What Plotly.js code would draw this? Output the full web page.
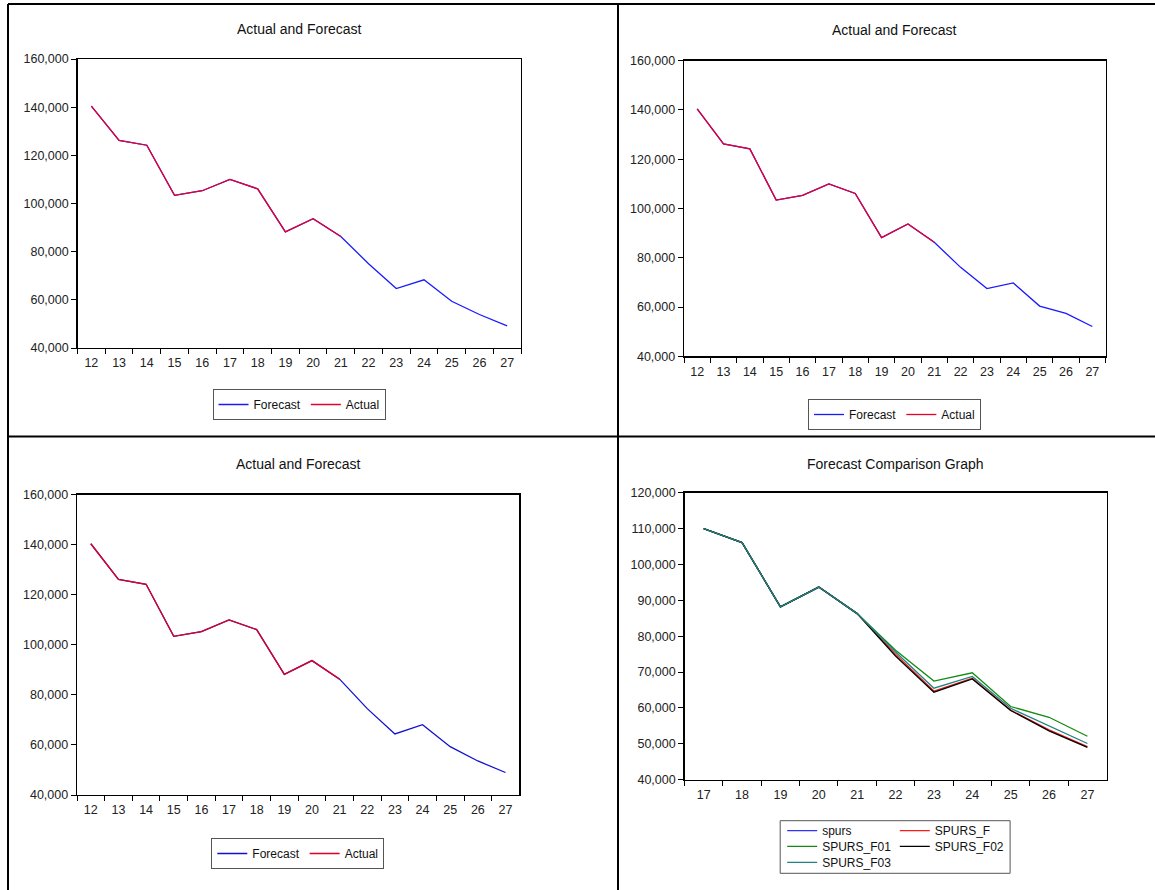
<!DOCTYPE html>
<html>
<head>
<meta charset="utf-8">
<script src="https://cdn.plot.ly/plotly-3.0.1.min.js"></script>
<style>
  html, body { margin: 0; padding: 0; background: #ffffff; }
  #chart { width: 1155px; height: 890px; }
</style>
</head>
<body>
<div id="chart"></div>
<script>
// ---------------- data ----------------
const periods = [12, 13, 14, 15, 16, 17, 18, 19, 20, 21, 22, 23, 24, 25, 26, 27];
const comparePeriods = [17, 18, 19, 20, 21, 22, 23, 24, 25, 26, 27];

// observed values, periods 12..21
const actualValues = [140400, 126200, 124200, 103400, 105300, 110000, 106100, 88200, 93700, 86300];
// in-sample values shown in the comparison graph, periods 17..21
const actualCompare = [110000, 106100, 88200, 93700, 86300];

// out-of-sample forecasts, periods 22..27
const forecastF   = [75000, 64700, 68300, 59400, 53900, 49200];
const forecastF01 = [76100, 67500, 69800, 60400, 57400, 52100];
const forecastF02 = [74500, 64400, 68100, 59300, 53600, 49000];
const forecastF03 = [75600, 65500, 68800, 59900, 55000, 50100];

const yTicksTop = [40000, 60000, 80000, 100000, 120000, 140000, 160000];
const yTicksCmp = [40000, 50000, 60000, 70000, 80000, 90000, 100000, 110000, 120000];

const titles = ["Actual and Forecast", "Actual and Forecast", "Actual and Forecast", "Forecast Comparison Graph"];
const compareNames = ["spurs", "SPURS_F", "SPURS_F01", "SPURS_F02", "SPURS_F03"];

// ---------------- helpers (page pixel -> paper fraction) ----------------
const W = 1155, H = 890;
const px = v => v / W;
const py = v => 1 - v / H;

const FONT = "Liberation Sans, Arial, sans-serif";
const BLUE = "#1a1aff";
const RED = "#e8002c";

function xAxis(dom, anchor, cats) {
  return {
    domain: dom, anchor: anchor, type: "category",
    range: [-0.5, cats.length - 0.5],
    tickmode: "linear", tick0: 0, dtick: 1,
    tickson: "boundaries", ticks: "outside", ticklen: 5, tickwidth: 1, tickcolor: "#000",
    ticklabelstandoff: 3,
    showline: true, linecolor: "#000", linewidth: 1.3, mirror: true,
    showgrid: false, zeroline: false, fixedrange: true,
    tickfont: { family: FONT, size: 12.5, color: "#222" }
  };
}
function yAxis(dom, anchor, ticks) {
  return {
    domain: dom, anchor: anchor,
    range: [ticks[0], ticks[ticks.length - 1]],
    tickmode: "array", tickvals: ticks, tickformat: ",",
    ticks: "outside", ticklen: 5, tickwidth: 1, tickcolor: "#000",
    showline: true, linecolor: "#000", linewidth: 1.3, mirror: true,
    showgrid: false, zeroline: false, fixedrange: true,
    tickfont: { family: FONT, size: 12.5, color: "#222" }
  };
}
function boxLegend(cx, top) {
  return {
    x: px(cx), y: py(top), xanchor: "center", yanchor: "top",
    xref: "paper", yref: "paper",
    orientation: "h", traceorder: "normal",
    borderwidth: 1, bordercolor: "#555", bgcolor: "#fff",
    font: { family: FONT, size: 12, color: "#111" }
  };
}
function entryLegend(lineLeft, cy) {
  return {
    x: px(lineLeft - 5), y: py(cy), xanchor: "left", yanchor: "middle",
    xref: "paper", yref: "paper",
    orientation: "v", borderwidth: 0, bgcolor: "rgba(0,0,0,0)",
    font: { family: FONT, size: 12, color: "#111" }
  };
}

// ---------------- traces ----------------
const fullF   = actualValues.concat(forecastF);
const fullF01 = actualValues.concat(forecastF01);
const fullF02 = actualValues.concat(forecastF02);

const traces = [];
function line(x, y, name, color, xa, ya, legend, width) {
  traces.push({
    type: "scatter", mode: "lines", x: x, y: y, name: name,
    xaxis: xa, yaxis: ya, legend: legend,
    line: { color: color, width: width || 1.3 },
    hoverinfo: "x+y+name"
  });
}
// panel 1
line(periods, fullF, "Forecast", BLUE, "x", "y", "legend");
line(periods.slice(0, actualValues.length), actualValues, "Actual", RED, "x", "y", "legend");
// panel 2
line(periods, fullF01, "Forecast", BLUE, "x2", "y2", "legend2");
line(periods.slice(0, actualValues.length), actualValues, "Actual", RED, "x2", "y2", "legend2");
// panel 3
line(periods, fullF02, "Forecast", "#1010d0", "x3", "y3", "legend3");
line(periods.slice(0, actualValues.length), actualValues, "Actual", "#e00020", "x3", "y3", "legend3");
// panel 4
line(comparePeriods.slice(0, actualCompare.length), actualCompare, compareNames[0], "#3030ff", "x4", "y4", "legend4");
line(comparePeriods, actualCompare.concat(forecastF),   compareNames[1], "#ff1a1a", "x4", "y4", "legend5");
line(comparePeriods, actualCompare.concat(forecastF01), compareNames[2], "#138a13", "x4", "y4", "legend6");
line(comparePeriods, actualCompare.concat(forecastF02), compareNames[3], "#000000", "x4", "y4", "legend7");
line(comparePeriods, actualCompare.concat(forecastF03), compareNames[4], "#1f8383", "x4", "y4", "legend8");

// ---------------- layout ----------------
const dom = {
  p1x: [px(77.5), px(521)],   p1y: [py(348), py(59)],
  p2x: [px(684), px(1105.5)], p2y: [py(356.3), py(60.7)],
  p3x: [px(77), px(519.3)],   p3y: [py(795), py(494.7)],
  p4x: [px(684.5), px(1106.6)], p4y: [py(779.7), py(492.7)]
};

const titlePos = [[299, 29], [894.5, 29.5], [298.2, 463.5], [895.7, 464]];
const annotations = titles.map((t, i) => ({
  text: t, xref: "paper", yref: "paper",
  x: px(titlePos[i][0]), y: py(titlePos[i][1]),
  xanchor: "center", yanchor: "middle", showarrow: false,
  font: { family: FONT, size: 14, color: "#111" }
}));

function frameLine(x0, y0, x1, y1) {
  return { type: "line", xref: "paper", yref: "paper",
    x0: px(x0), y0: py(y0), x1: px(x1), y1: py(y1),
    line: { color: "#000", width: 2 } };
}
const shapes = [
  frameLine(8, 4, 1155, 4),
  frameLine(8, 4, 8, 890),
  frameLine(618, 4, 618, 890),
  frameLine(8, 436.5, 1155, 436.5),
  { type: "rect", xref: "paper", yref: "paper",
    x0: px(780.2), x1: px(1010.1), y0: py(873.3), y1: py(820.7),
    line: { color: "#555", width: 1 }, fillcolor: "rgba(0,0,0,0)" }
];

const layout = {
  width: W, height: H,
  margin: { l: 0, r: 0, t: 0, b: 0, pad: 0 },
  paper_bgcolor: "#fff", plot_bgcolor: "#fff",
  font: { family: FONT, size: 12, color: "#111" },
  showlegend: true,
  xaxis: xAxis(dom.p1x, "y", periods),          yaxis: yAxis(dom.p1y, "x", yTicksTop),
  xaxis2: xAxis(dom.p2x, "y2", periods),        yaxis2: yAxis(dom.p2y, "x2", yTicksTop),
  xaxis3: xAxis(dom.p3x, "y3", periods),        yaxis3: yAxis(dom.p3y, "x3", yTicksTop),
  xaxis4: xAxis(dom.p4x, "y4", comparePeriods), yaxis4: yAxis(dom.p4y, "x4", yTicksCmp),
  legend: boxLegend(299, 389),
  legend2: boxLegend(894.5, 399),
  legend3: boxLegend(297.8, 838),
  legend4: entryLegend(787.2, 830.7),
  legend5: entryLegend(899.8, 830.7),
  legend6: entryLegend(787.2, 846.3),
  legend7: entryLegend(899.8, 846.3),
  legend8: entryLegend(787.2, 862.3),
  annotations: annotations,
  shapes: shapes
};

Plotly.newPlot("chart", traces, layout, { displayModeBar: false, staticPlot: true });
</script>
</body>
</html>
